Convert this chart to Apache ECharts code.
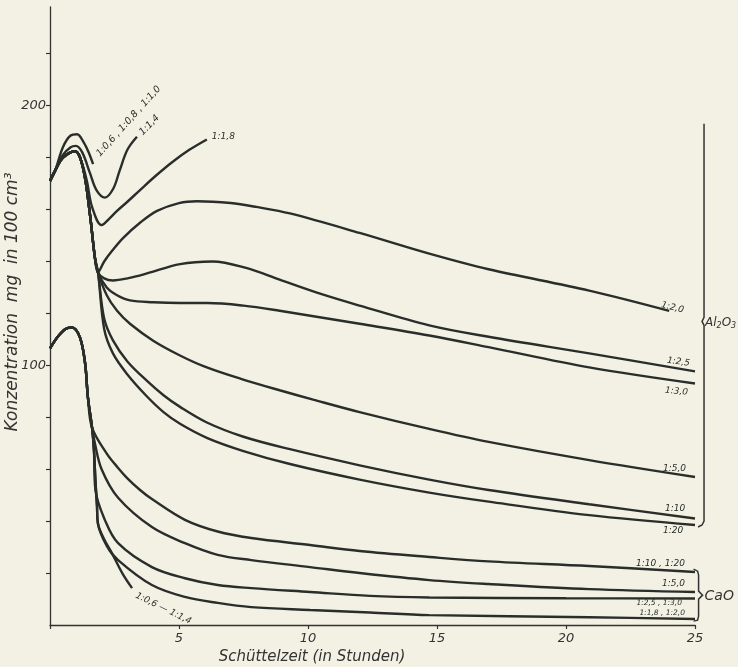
<!DOCTYPE html>
<html>
<head>
<meta charset="utf-8">
<script src="https://cdn.jsdelivr.net/npm/echarts@6/dist/echarts.min.js"></script>
<style>
html,body{margin:0;padding:0;background:#f2f1e4;}
#c{width:738px;height:667px;}
</style>
</head>
<body>
<div id="c"></div>
<script>
// ---- data (x = Schüttelzeit in Stunden, y = mg in 100 cm3) ----
const xTicks = [5, 10, 15, 20, 25];
const yTickValues = [20, 40, 60, 80, 100, 120, 140, 160, 180, 200, 220];
const yLabelValues = [100, 200];

// Al2O3
const al_06_08_10 = [[0,171],[0.2,175],[0.5,184],[0.8,188.5],[1.05,189],[1.3,186],[1.5,182],[1.67,177.5]];
const al_14 = [[0,171],[0.2,175],[0.5,181],[0.8,184],[1.0,184.5],[1.25,182],[1.55,174],[1.8,167.5],[2.13,164.6],[2.45,168],[2.7,175],[3.0,183],[3.37,188]];
const al_18 = [[0,171],[0.2,175],[0.5,180],[0.97,182.5],[1.2,179],[1.43,171],[1.63,161],[2.0,154],[2.3,156.5],[2.6,159.5],[3.0,163],[3.49,167.5],[4.1,173],[4.77,178.5],[5.4,183],[6.08,187]];
const al_20 = [[0,171],[0.2,175],[0.5,180],[0.97,182.5],[1.28,176],[1.55,158],[1.74,141.5],[1.86,135.8],[2.1,140],[2.4,144],[2.83,149],[3.5,155],[4.15,159.5],[5.0,162.5],[5.7,163.2],[7,162.5],[8,161],[9.3,158.5],[12,151],[14.7,143],[17,137],[20.9,128.8],[24.0,121]];
const al_25 = [[0,171],[0.2,175],[0.5,180],[0.97,182.5],[1.28,176],[1.55,158],[1.74,141.5],[1.86,135.8],[2.1,133.5],[2.44,132.7],[3.0,133.5],[3.76,135.4],[5.04,139],[6.3,140],[7.6,137.5],[8.9,133],[10.5,127.5],[12,123],[14.7,115.4],[17,111],[20.9,104.6],[25,97.7]];
const al_30 = [[0,171],[0.2,175],[0.5,180],[0.97,182.5],[1.28,176],[1.55,158],[1.74,141.5],[1.86,135.8],[2.2,130],[2.6,127],[3.1,125],[4,124.3],[5.04,124],[6.1,124],[7.5,123],[8.9,121],[12,116],[14.7,111.5],[17,107],[20.9,99.2],[25,93]];
const al_50 = [[0,171],[0.2,175],[0.5,180],[0.97,182.5],[1.28,176],[1.55,158],[1.74,141.5],[1.86,135.8],[2.2,127],[2.6,121],[3.1,116],[4,109.5],[5,104],[6,99.5],[7.4,94.8],[8.9,90.4],[10.2,86.8],[12,82],[14.7,75.5],[17,70.5],[20.9,63.5],[25,57]];
const al_100 = [[0,171],[0.2,175],[0.5,180],[0.97,182.5],[1.28,176],[1.55,158],[1.74,141.5],[1.86,135.8],[2.1,118],[2.44,109.6],[3.0,101.5],[3.76,94],[4.4,88.5],[5.04,84],[6.08,78],[7.5,72.5],[9.3,67.7],[12,61.5],[14.7,56],[17,52],[20.9,46.5],[25,41]];
const al_200 = [[0,171],[0.2,175],[0.5,180],[0.97,182.5],[1.28,176],[1.55,158],[1.74,141.5],[1.86,135.8],[2.1,114],[2.44,104.6],[3.0,96.5],[3.76,88],[4.4,82],[5.04,77.5],[6.1,72],[7.5,67],[9.3,62],[12,56],[14.7,51],[17,47.5],[20.9,42.3],[25,38.5]];

// CaO
const ca_10_20 = [[0,106.5],[0.3,111],[0.6,114],[0.85,114.6],[1.16,110.8],[1.36,100.8],[1.47,87.7],[1.63,76],[2.2,66],[2.64,60.5],[3.0,56.5],[3.49,52],[3.95,48.5],[5.23,40.5],[6.5,36],[7.8,33.5],[10.08,30.8],[12,28.5],[14.7,26.2],[17,24.5],[20.9,22.7],[25,20.4]];
const ca_50 = [[0,106.5],[0.3,111],[0.6,114],[0.85,114.6],[1.16,110.8],[1.36,100.8],[1.47,87.7],[1.63,76],[1.74,70],[2.0,60],[2.64,49],[3.95,37.7],[5.23,31.5],[6.5,27],[7.8,25],[10.08,22.3],[12,20],[14.7,17.3],[17,15.8],[20.9,13.8],[25,12.7]];
const ca_25_30 = [[0,106.5],[0.3,111],[0.6,114],[0.85,114.6],[1.16,110.8],[1.36,100.8],[1.47,87.7],[1.63,76],[1.7,68],[1.76,52],[2.13,40.4],[2.64,31.5],[3.95,22.3],[5.23,18],[6.5,15.4],[7.8,14.2],[10.08,12.7],[12.4,11.2],[14.7,10.6],[20,10.3],[25,10.2]];
const ca_18_20 = [[0,106.5],[0.3,111],[0.6,114],[0.85,114.6],[1.16,110.8],[1.36,100.8],[1.47,87.7],[1.63,76],[1.7,68],[1.76,56],[1.82,46],[1.86,39],[2.2,30.5],[2.64,25],[3.95,15.4],[5.23,10.8],[6.5,8.5],[7.8,6.9],[10.08,5.8],[12.4,4.8],[14.7,3.8],[20.9,3],[25,2.3]];
const ca_06_14 = [[0,106.5],[0.3,111],[0.6,114],[0.85,114.6],[1.16,110.8],[1.36,100.8],[1.47,87.7],[1.63,76],[1.7,68],[1.76,56],[1.82,46],[1.86,39],[2.1,33],[2.4,27.7],[2.8,20],[3.18,14.2]];

const seriesList = [al_06_08_10, al_14, al_18, al_20, al_25, al_30, al_50, al_100, al_200,
                    ca_10_20, ca_50, ca_25_30, ca_18_20, ca_06_14];
const seriesNames = ['1:0,6 , 1:0,8 , 1:1,0','1:1,4','1:1,8','1:2,0','1:2,5','1:3,0','1:5,0','1:10','1:20',
                     '1:10 , 1:20','1:5,0','1:2,5 , 1:3,0','1:1,8 , 1:2,0','1:0,6 — 1:1,4'];

const INK = '#2a2e2b';
const FONT = 'DejaVu Sans';

const chart = echarts.init(document.getElementById('c'), null, {renderer: 'canvas'});
chart.setOption({
  backgroundColor: '#f2f1e4',
  animation: false,
  grid: {left: 50, right: 43, top: 7, bottom: 42, containLabel: false},
  xAxis: {
    type: 'value', min: 0, max: 25, interval: 5,
    axisLine: {lineStyle: {color: '#333', width: 1.3}},
    axisTick: {show: true, length: 4, lineStyle: {color: '#333', width: 1.2}},
    axisLabel: {formatter: v => (xTicks.indexOf(v) >= 0 ? String(v) : ''), color: '#333',
      fontFamily: FONT, fontStyle: 'italic', fontSize: 13, margin: 7},
    splitLine: {show: false}
  },
  yAxis: {
    type: 'value', min: 0, max: 238, interval: 20,
    axisLine: {show: true, lineStyle: {color: '#333', width: 1.3}},
    axisTick: {show: true, length: 4, customValues: yTickValues, lineStyle: {color: '#333', width: 1.2}},
    axisLabel: {customValues: yLabelValues, color: '#333', fontFamily: FONT, fontStyle: 'italic', fontSize: 13, margin: 4},
    splitLine: {show: false}
  },
  series: seriesList.map((d, i) => ({
    name: seriesNames[i], type: 'line', data: d, showSymbol: false, smooth: 0.35,
    lineStyle: {color: INK, width: 2.4}, z: 3
  }))
});

// ---- labels anchored to series end points ----
const labelSpec = [
  {s: 0, dx: 5, dy: -9, rot: 48, align: 'left', size: 9.5},
  {s: 1, dx: 4, dy: -3, rot: 46, align: 'left', size: 9.5},
  {s: 2, dx: 5, dy: -3, rot: 0, align: 'left', size: 9},
  {s: 3, dx: -8, dy: -6, rot: -14, align: 'left', size: 9},
  {s: 4, dx: -28, dy: -11, rot: -8, align: 'left', size: 9},
  {s: 5, dx: -30, dy: 7, rot: -5, align: 'left', size: 9},
  {s: 6, dx: -32, dy: -8, rot: 0, align: 'left', size: 9},
  {s: 7, dx: -30, dy: -10, rot: 0, align: 'left', size: 9},
  {s: 8, dx: -32, dy: 6, rot: 0, align: 'left', size: 9},
  {s: 9, dx: -10, dy: -8, rot: 0, align: 'right', size: 9},
  {s: 10, dx: -10, dy: -8, rot: 0, align: 'right', size: 9},
  {s: 11, dx: -13, dy: 5, rot: 0, align: 'right', size: 7.5},
  {s: 12, dx: -10, dy: -6, rot: 0, align: 'right', size: 7.5},
  {s: 13, dx: 4, dy: 7, rot: -26, align: 'left', size: 9}
];
const graphics = [];
labelSpec.forEach(l => {
  const d = seriesList[l.s];
  const p = chart.convertToPixel({gridIndex: 0}, d[d.length - 1]);
  graphics.push({
    type: 'text', x: p[0] + l.dx, y: p[1] + l.dy, rotation: l.rot * Math.PI / 180, z: 10,
    style: {text: seriesNames[l.s], fill: INK, font: 'italic ' + l.size + 'px "' + FONT + '"',
      textAlign: l.align, textVerticalAlign: 'middle'}
  });
});

// axis titles
graphics.push({
  type: 'text', x: 13, y: 302, rotation: Math.PI / 2, z: 10,
  style: {text: 'Konzentration  mg  in 100 cm³', fill: '#333', font: 'italic 17px "' + FONT + '"',
    textAlign: 'center', textVerticalAlign: 'middle'}
});
graphics.push({
  type: 'text', x: 312, y: 657, z: 10,
  style: {text: 'Schüttelzeit (in Stunden)', fill: '#333', font: 'italic 15px "' + FONT + '"',
    textAlign: 'center', textVerticalAlign: 'middle'}
});

// brackets
const alTop = chart.convertToPixel({gridIndex: 0}, [25.35, 193]);
const alBot = chart.convertToPixel({gridIndex: 0}, [25.35, 38.5]);
const alMid = (alTop[1] + alBot[1]) / 2 - 3;
graphics.push({
  type: 'polyline', z: 10,
  shape: {points: [[alTop[0], alTop[1]], [alTop[0], alMid - 4], [alTop[0] - 2, alMid], [alTop[0], alMid + 4],
    [alTop[0], alBot[1] - 4], [alTop[0] - 2, alBot[1]], [alTop[0] - 6, alBot[1] + 2]]},
  style: {stroke: '#333', lineWidth: 1.5, fill: null}
});
graphics.push({
  type: 'text', x: alTop[0] + 1, y: alMid + 1, z: 10,
  style: {text: 'Al{s|2}O{s|3}', fill: '#333', font: 'italic 12px "' + FONT + '"', textVerticalAlign: 'middle',
    rich: {s: {fontSize: 8, fontStyle: 'italic', fontFamily: FONT, fill: '#333', verticalAlign: 'bottom', padding: [7, 0, 0, 0]}}}
});
const caTop = chart.convertToPixel({gridIndex: 0}, [25.1, 21.5]);
const caBot = chart.convertToPixel({gridIndex: 0}, [25.1, 1.5]);
const caMid = (caTop[1] + caBot[1]) / 2;
const bx = caTop[0];
graphics.push({
  type: 'polyline', z: 10,
  shape: {points: [[bx - 4, caTop[1]], [bx, caTop[1] + 2], [bx + 1, caTop[1] + 6], [bx + 1, caMid - 4], [bx + 5, caMid],
    [bx + 1, caMid + 4], [bx + 1, caBot[1] - 5], [bx, caBot[1] - 1], [bx - 4, caBot[1]]]},
  style: {stroke: '#333', lineWidth: 1.5, fill: null}
});
graphics.push({
  type: 'text', x: bx + 7, y: caMid + 1, z: 10,
  style: {text: 'CaO', fill: '#333', font: 'italic 14px "' + FONT + '"', textVerticalAlign: 'middle'}
});

chart.setOption({graphic: graphics});
</script>
</body>
</html>
